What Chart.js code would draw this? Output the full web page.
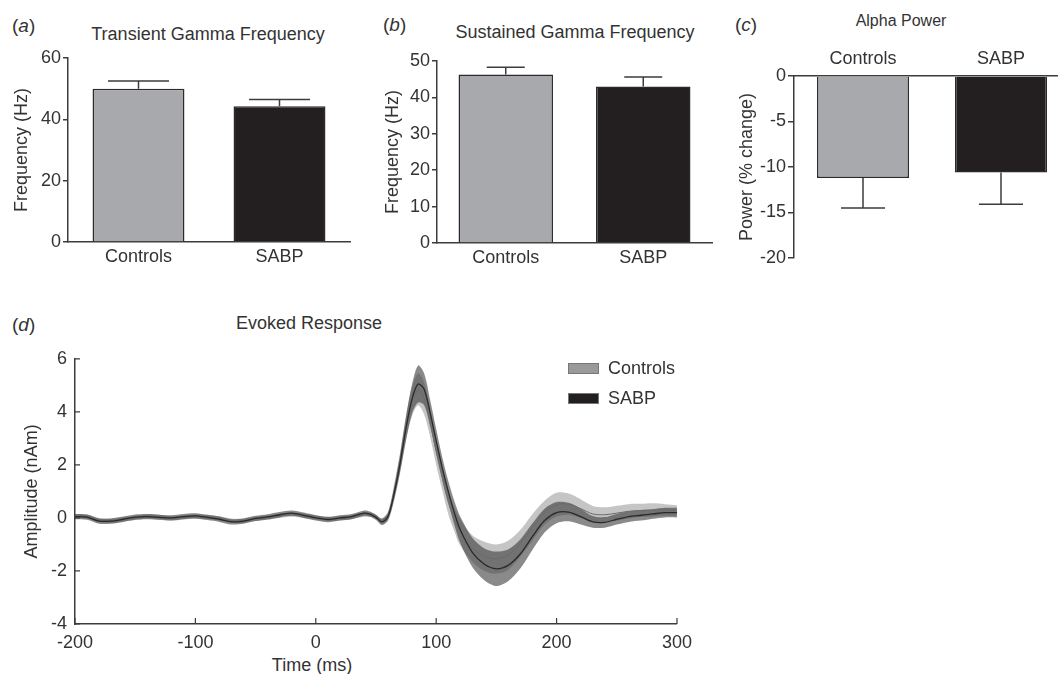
<!DOCTYPE html>
<html>
<head>
<meta charset="utf-8">
<script src="https://cdn.jsdelivr.net/npm/chart.js@4.4.1/dist/chart.umd.min.js"></script>
<style>
  html, body { margin: 0; padding: 0; background: #fff; }
  body {
    width: 1058px; height: 674px; overflow: hidden; position: relative;
    font-family: 'Liberation Sans', Arial, sans-serif; color: #333;
  }
  canvas { position: absolute; }
  .txt { position: absolute; white-space: nowrap; transform: translate(-50%, -50%); font-size: 18px; }
  .tag { position: absolute; white-space: nowrap; transform: translateY(-50%); font-size: 19px; }
  .legend { position: absolute; font-size: 18px; }
  .legend .row { display: flex; align-items: center; height: 30px; }
  .legend .sw { display: inline-block; width: 31px; height: 11px; margin-right: 9px; border: 1px solid #777; box-sizing: border-box; }
</style>
</head>
<body>
  <div class="tag" style="left:12px; top:26px">(<i>a</i>)</div>
  <div class="txt" style="left:208px; top:34px">Transient Gamma Frequency</div>
  <div class="tag" style="left:383px; top:25px">(<i>b</i>)</div>
  <div class="txt" style="left:575px; top:32px">Sustained Gamma Frequency</div>
  <div class="tag" style="left:735px; top:25px">(<i>c</i>)</div>
  <div class="txt" style="left:901px; top:21px; font-size:16px">Alpha Power</div>
  <div class="tag" style="left:12px; top:325px">(<i>d</i>)</div>
  <div class="txt" style="left:309px; top:323px">Evoked Response</div>
  <div class="txt" style="left:312px; top:665px">Time (ms)</div>

  <canvas id="chartA" width="360" height="240" style="left:0px; top:40px"></canvas>
  <canvas id="chartB" width="350" height="240" style="left:370px; top:40px"></canvas>
  <canvas id="chartC" width="360" height="240" style="left:720px; top:40px"></canvas>
  <canvas id="chartD" width="700" height="334" style="left:0px; top:340px"></canvas>

  <div class="legend" style="left:568px; top:353px">
    <div class="row"><span class="sw" style="background:#9a9a9a"></span>Controls</div>
    <div class="row"><span class="sw" style="background:#231f20"></span>SABP</div>
  </div>

<script>
// ── data ──
const categories = ['Controls', 'SABP'];

const transientMean = [50.0, 44.3];
const transientSem = [2.5, 2.2];

const sustainedMean = [46.3, 43.0];
const sustainedSem = [2.0, 2.6];

const alphaMean = [-11.2, -10.6];
const alphaSem = [3.3, 3.5];

const timeMs = [
  -200, -190, -180, -170, -160, -150, -140, -130, -120, -110, -100, -90, -80,
  -70, -60, -50, -40, -30, -20, -10, 0, 10, 20, 30, 40,
  45, 50, 55, 60, 65, 70, 75, 80, 85, 90, 95, 100, 105, 110, 115, 120,
  130, 140, 150, 160, 170, 180, 190, 200, 210, 220, 230, 240, 250, 260, 270, 280, 290, 300
];
const controlsMean = [
  0.08, 0.05, -0.08, -0.10, -0.06, 0.00, 0.06, 0.04, -0.02, 0.02, 0.05, 0.04, -0.02,
  -0.10, -0.10, -0.04, 0.02, 0.08, 0.12, 0.08, 0.02, -0.04, -0.02, 0.04, 0.12,
  0.12, 0.04, -0.12, 0.10, 1.00, 2.10, 3.40, 4.40, 4.85, 4.50, 3.60, 2.50, 1.50, 0.60, -0.05, -0.55,
  -1.15, -1.45, -1.55, -1.40, -0.95, -0.35, 0.20, 0.50, 0.52, 0.35, 0.15, 0.12, 0.18, 0.25, 0.28, 0.30, 0.30, 0.28
];
const controlsSem = [
  0.08, 0.08, 0.08, 0.08, 0.08, 0.08, 0.08, 0.08, 0.08, 0.08, 0.08, 0.08, 0.08,
  0.08, 0.08, 0.08, 0.08, 0.08, 0.08, 0.08, 0.08, 0.08, 0.08, 0.08, 0.08,
  0.08, 0.08, 0.10, 0.15, 0.25, 0.35, 0.45, 0.55, 0.60, 0.60, 0.55, 0.50, 0.45, 0.45, 0.45, 0.50,
  0.50, 0.55, 0.55, 0.55, 0.50, 0.50, 0.45, 0.45, 0.40, 0.35, 0.30, 0.28, 0.28, 0.27, 0.25, 0.25, 0.22, 0.20
];
const sabpMean = [
  0.05, 0.03, -0.12, -0.12, -0.05, 0.03, 0.05, 0.02, 0.00, 0.05, 0.08, 0.02, -0.05,
  -0.15, -0.12, -0.02, 0.04, 0.12, 0.18, 0.10, 0.00, -0.06, 0.00, 0.05, 0.18,
  0.14, 0.02, -0.15, 0.05, 0.90, 2.05, 3.40, 4.50, 5.05, 4.85, 3.95, 2.90, 1.90, 1.00, 0.20, -0.45,
  -1.30, -1.75, -1.92, -1.78, -1.35, -0.70, -0.10, 0.20, 0.22, 0.05, -0.15, -0.17, -0.05, 0.05, 0.10, 0.15, 0.20, 0.20
];
const sabpSem = [
  0.10, 0.10, 0.10, 0.10, 0.10, 0.10, 0.10, 0.10, 0.10, 0.10, 0.10, 0.10, 0.10,
  0.10, 0.10, 0.10, 0.10, 0.10, 0.10, 0.10, 0.10, 0.10, 0.10, 0.10, 0.10,
  0.10, 0.10, 0.12, 0.15, 0.25, 0.35, 0.45, 0.55, 0.70, 0.60, 0.50, 0.45, 0.40, 0.40, 0.45, 0.50,
  0.55, 0.60, 0.65, 0.60, 0.55, 0.50, 0.45, 0.40, 0.35, 0.30, 0.22, 0.20, 0.20, 0.20, 0.20, 0.18, 0.18, 0.18
];

// ── styling ──
const axisColor = '#3c3c3c';
const textColor = '#333';
const barFill = ['#a7a9ac', '#231f20'];
const font18 = { size: 18, family: "'Liberation Sans', Arial, sans-serif" };

Chart.defaults.font.family = "'Liberation Sans', Arial, sans-serif";
Chart.defaults.color = textColor;

// error bar drawn away from zero, from the bar end
function makeErrorBars(sems, cap) {
  return {
    id: 'errorBars',
    afterDatasetsDraw(chart) {
      const { ctx } = chart;
      const y = chart.scales.y;
      const values = chart.data.datasets[0].data;
      ctx.save();
      ctx.strokeStyle = axisColor;
      ctx.lineWidth = 1.5;
      chart.getDatasetMeta(0).data.forEach((bar, i) => {
        const v = values[i];
        const y0 = y.getPixelForValue(v);
        const y1 = y.getPixelForValue(v + Math.sign(v) * sems[i]);
        ctx.beginPath();
        ctx.moveTo(bar.x, y0);
        ctx.lineTo(bar.x, y1);
        ctx.moveTo(bar.x - cap / 2, y1);
        ctx.lineTo(bar.x + cap / 2, y1);
        ctx.stroke();
      });
      ctx.restore();
    }
  };
}

function barChart(id, means, sems, cfg) {
  return new Chart(document.getElementById(id), {
    type: 'bar',
    data: {
      labels: categories,
      datasets: [{
        data: means,
        backgroundColor: barFill,
        borderColor: '#2a2a2a',
        borderWidth: 1.5,
        barPercentage: cfg.barPct,
        categoryPercentage: 1
      }]
    },
    options: {
      responsive: false,
      animation: false,
      layout: { padding: cfg.padding },
      plugins: { legend: { display: false }, tooltip: { enabled: false } },
      scales: {
        x: {
          position: cfg.xPos,
          grid: { display: false, drawTicks: false },
          border: { color: axisColor, width: 1.5 },
          ticks: { padding: cfg.xPad, font: font18, color: textColor },
          afterFit: s => { s.height = cfg.xHeight; }
        },
        y: {
          min: cfg.min, max: cfg.max,
          ticks: { stepSize: cfg.step, padding: 2, font: font18, color: textColor },
          grid: { drawOnChartArea: false, tickLength: cfg.tick, color: axisColor, lineWidth: 1.5 },
          border: { color: axisColor, width: 1.5 },
          title: { display: true, text: cfg.yTitle, font: font18, color: textColor, padding: { top: cfg.yTitlePad, bottom: 0 } },
          afterFit: s => { s.width = cfg.yWidth; }
        }
      }
    },
    plugins: [makeErrorBars(sems, cfg.cap)]
  });
}

// ── (a) Transient gamma ──
barChart('chartA', transientMean, transientSem, {
  min: 0, max: 60, step: 20, tick: 5, yTitle: 'Frequency (Hz)', yTitlePad: 11, yWidth: 68,
  xPos: 'bottom', xPad: 4, xHeight: 38, barPct: 0.652, cap: 61,
  padding: { top: 18, right: 10, left: 0, bottom: 0 }
});

// ── (b) Sustained gamma ──
barChart('chartB', sustainedMean, sustainedSem, {
  min: 0, max: 50, step: 10, tick: 5, yTitle: 'Frequency (Hz)', yTitlePad: 12, yWidth: 67,
  xPos: 'bottom', xPad: 4, xHeight: 37, barPct: 0.687, cap: 38,
  padding: { top: 21, right: 8, left: 0, bottom: 0 }
});

// ── (c) Alpha power ──
barChart('chartC', alphaMean, alphaSem, {
  min: -20, max: 0, step: 5, tick: 6, yTitle: 'Power (% change)', yTitlePad: 16, yWidth: 74,
  xPos: 'top', xPad: 6, xHeight: 36, barPct: 0.667, cap: 44,
  padding: { top: 0, right: 10, left: 0, bottom: 22 }
});

// ── (d) Evoked response ──
const inwardTicks = {
  id: 'inwardTicks',
  afterDraw(chart) {
    const { ctx, chartArea: a, scales: { x, y } } = chart;
    ctx.save();
    ctx.strokeStyle = axisColor;
    ctx.lineWidth = 1.2;
    ctx.beginPath();
    x.ticks.forEach(t => {
      const px = x.getPixelForValue(t.value);
      ctx.moveTo(px, a.bottom);
      ctx.lineTo(px, a.bottom - 6);
    });
    y.ticks.forEach(t => {
      const py = y.getPixelForValue(t.value);
      ctx.moveTo(a.left, py);
      ctx.lineTo(a.left + 5, py);
    });
    ctx.stroke();
    ctx.restore();
  }
};

const pts = (arr, sem, sign) => timeMs.map((t, i) => ({ x: t, y: arr[i] + sign * (sem ? sem[i] : 0) }));

const bandBase = { pointRadius: 0, borderWidth: 0, tension: 0.3 };

new Chart(document.getElementById('chartD'), {
  type: 'line',
  data: {
    datasets: [
      { label: 'SABP', data: pts(sabpMean, null, 0), borderColor: '#2a2a2a', borderWidth: 1.3, pointRadius: 0, tension: 0.3, fill: false },
      { label: 'Controls', data: pts(controlsMean, null, 0), borderColor: '#6a6a6a', borderWidth: 1, pointRadius: 0, tension: 0.3, fill: false },
      { ...bandBase, data: pts(sabpMean, sabpSem, 1), backgroundColor: 'rgba(60,60,60,0.6)', fill: '+1' },
      { ...bandBase, data: pts(sabpMean, sabpSem, -1), fill: false },
      { ...bandBase, data: pts(controlsMean, controlsSem, 1), backgroundColor: 'rgba(150,150,150,0.55)', fill: '+1' },
      { ...bandBase, data: pts(controlsMean, controlsSem, -1), fill: false }
    ]
  },
  options: {
    responsive: false,
    animation: false,
    layout: { padding: { top: 18, right: 23, left: 0, bottom: 0 } },
    plugins: { legend: { display: false }, tooltip: { enabled: false } },
    scales: {
      x: {
        type: 'linear', min: -200, max: 300,
        ticks: { stepSize: 100, padding: 8, font: font18, color: textColor },
        grid: { display: false, drawTicks: false },
        border: { color: axisColor, width: 1.5 },
        afterFit: s => { s.height = 50; }
      },
      y: {
        min: -4, max: 6,
        ticks: { stepSize: 2, padding: 8, font: font18, color: textColor },
        grid: { display: false, drawTicks: false },
        border: { color: axisColor, width: 1.5 },
        title: { display: true, text: 'Amplitude (nAm)', font: font18, color: textColor, padding: { top: 21, bottom: 0 } },
        afterFit: s => { s.width = 75; }
      }
    }
  },
  plugins: [inwardTicks]
});
</script>
</body>
</html>
